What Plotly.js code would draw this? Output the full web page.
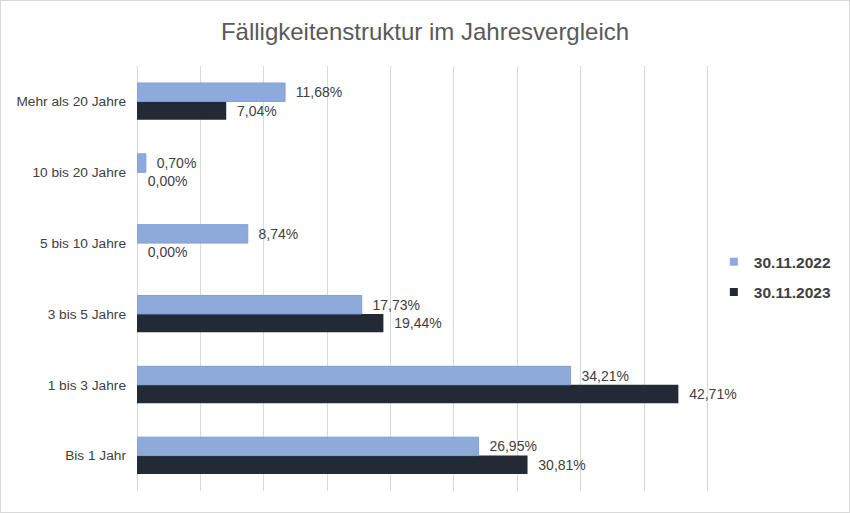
<!DOCTYPE html>
<html>
<head>
<meta charset="utf-8">
<script src="https://cdn.plot.ly/plotly-3.0.1.min.js"></script>
<style>
  body { margin: 0; background: #fff; }
  #chart { width: 850px; height: 513px; box-sizing: border-box; border: 1px solid #d9d9d9; }
</style>
</head>
<body>
<div id="chart"></div>
<script>
var categories = ['Bis 1 Jahr', '1 bis 3 Jahre', '3 bis 5 Jahre', '5 bis 10 Jahre', '10 bis 20 Jahre', 'Mehr als 20 Jahre'];
var values2022 = [26.95, 34.21, 17.73, 8.74, 0.70, 11.68];
var values2023 = [30.81, 42.71, 19.44, 0.00, 0.00, 7.04];
var seriesNames = ['30.11.2022', '30.11.2023'];
var seriesColors = ['#8eaadb', '#222a35'];

function fmt(v) {
  // leading no-break spaces push the label away from the bar end
  return '\u00a0\u00a0' + v.toFixed(2).replace('.', ',') + '%';
}

var labelFont = { family: 'Liberation Sans, Arial, sans-serif', size: 14, color: '#404040' };

var data = [{
    type: 'bar',
    orientation: 'h',
    name: seriesNames[1],
    y: categories,
    x: values2023,
    text: values2023.map(fmt),
    textposition: 'outside',
    textfont: labelFont,
    cliponaxis: false,
    marker: { color: seriesColors[1], line: { width: 0 } },
    showlegend: false,
    hoverinfo: 'none'
  }, {
    type: 'bar',
    orientation: 'h',
    name: seriesNames[0],
    y: categories,
    x: values2022,
    text: values2022.map(fmt),
    textposition: 'outside',
    textfont: labelFont,
    cliponaxis: false,
    marker: { color: seriesColors[0], line: { color: '#7f9fd6', width: 1 } },
    showlegend: false,
    hoverinfo: 'none'
  },
  // legend-only entries (small square keys like the reference)
  {
    type: 'scatter', mode: 'markers', name: seriesNames[0], legendgroup: 'a',
    x: [null], y: [null],
    marker: { symbol: 'square', size: 8, color: seriesColors[0] },
    hoverinfo: 'none'
  }, {
    type: 'scatter', mode: 'markers', name: seriesNames[1], legendgroup: 'b',
    x: [null], y: [null],
    marker: { symbol: 'square', size: 8, color: seriesColors[1] },
    hoverinfo: 'none'
  }];

var layout = {
  width: 848,
  height: 511,
  paper_bgcolor: '#ffffff',
  plot_bgcolor: '#ffffff',
  barmode: 'group',
  bargap: 0.48,
  bargroupgap: 0,
  margin: { l: 136, r: 132, t: 65, b: 21, pad: 0 },
  title: {
    text: 'Fälligkeitenstruktur im Jahresvergleich',
    font: { family: 'Liberation Sans, Arial, sans-serif', size: 24, color: '#595959' },
    x: 0.5,
    xanchor: 'center',
    y: 0.94,
    yanchor: 'middle'
  },
  xaxis: {
    range: [0, 45.6],
    dtick: 5,
    tick0: 0,
    showticklabels: false,
    showgrid: true,
    gridcolor: '#d9d9d9',
    gridwidth: 1,
    zeroline: true,
    zerolinecolor: '#d9d9d9',
    showline: false,
    fixedrange: true
  },
  yaxis: {
    type: 'category',
    categoryarray: categories,
    showgrid: false,
    zeroline: false,
    showline: false,
    ticks: '',
    ticklabelstandoff: 10,
    tickfont: { family: 'Liberation Sans, Arial, sans-serif', size: 13.7, color: '#404040' },
    fixedrange: true
  },
  legend: {
    x: 0.998,
    xanchor: 'left',
    y: 0.503,
    yanchor: 'middle',
    traceorder: 'grouped',
    font: { family: 'Liberation Sans, Arial, sans-serif', size: 15.5, color: '#404040', weight: 'bold' },
    itemwidth: 30,
    tracegroupgap: 7
  },
  showlegend: true
};

Plotly.newPlot('chart', data, layout, { displayModeBar: false, staticPlot: true });
</script>
</body>
</html>
